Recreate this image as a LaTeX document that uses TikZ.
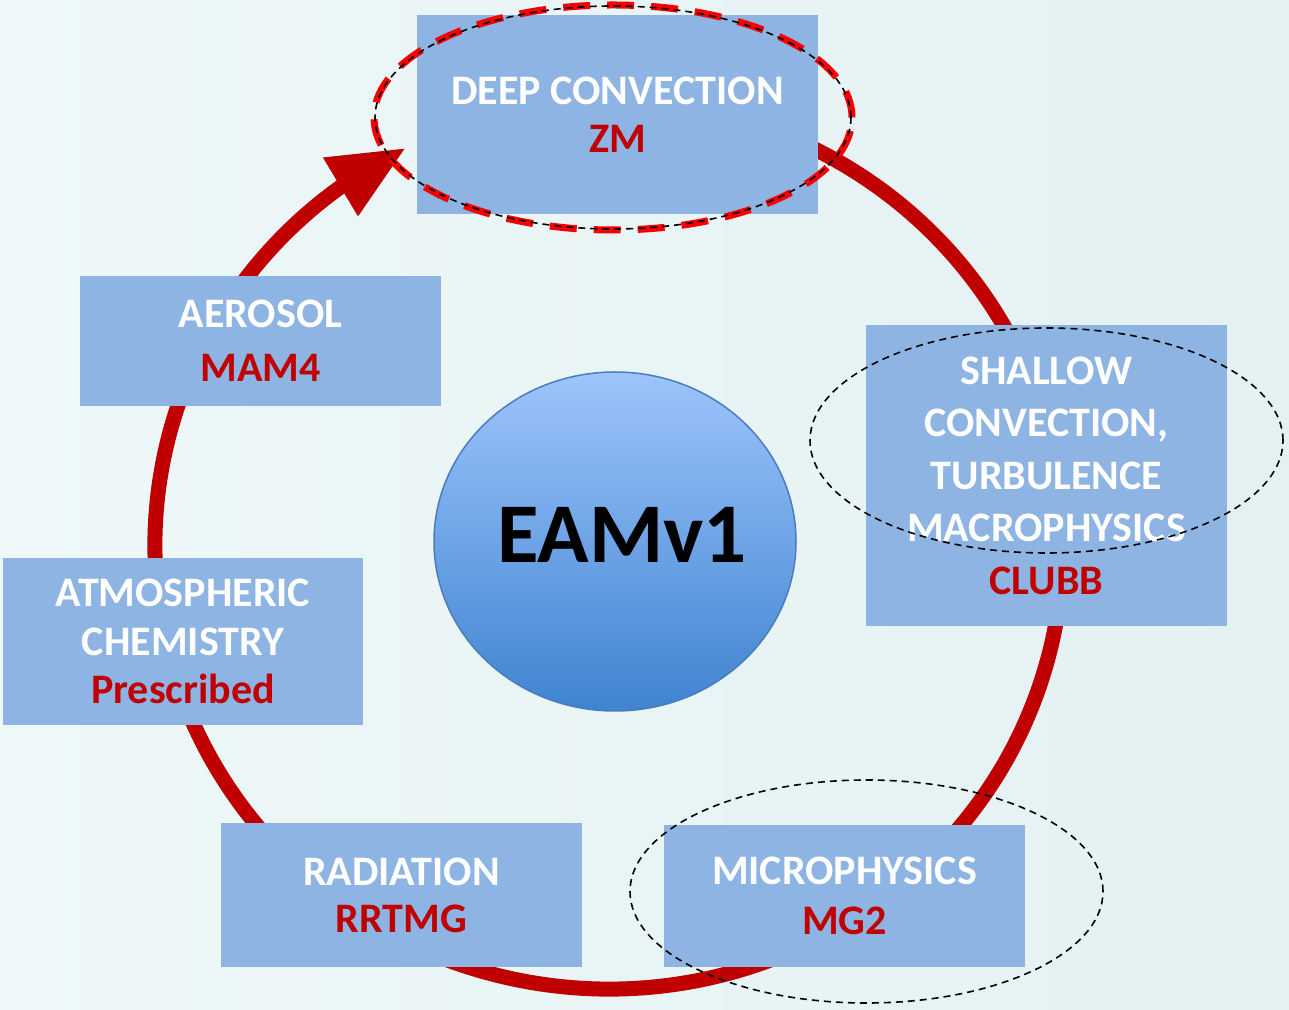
\documentclass[tikz,border=0pt]{standalone}
\usepackage{fontspec}
\setmainfont{Carlito}
\usetikzlibrary{shapes.geometric,arrows.meta,bending}
\definecolor{boxblue}{HTML}{8EB4E3}
\definecolor{redtxt}{HTML}{C00000}
\definecolor{ringred}{HTML}{C00000}
\definecolor{dashred}{HTML}{F70000}
\definecolor{bgL}{HTML}{EEF8F8}
\definecolor{bgR}{HTML}{E4F0F2}
\definecolor{circtop}{HTML}{9DC4FC}
\definecolor{circbot}{HTML}{3F84D0}
\definecolor{circedge}{HTML}{4A7DBB}
\newcommand{\boxfont}[1]{\fontsize{42}{#1}\selectfont\bfseries}
\begin{document}
\begin{tikzpicture}[x=1pt,y=1pt,
  modbox/.style={rectangle, fill=boxblue, inner sep=0pt, text=white, align=center},
  ring/.style={draw=ringred, line width=15pt, -{Triangle[width=64pt,length=76pt,flex]}},
  hlred/.style={ellipse, draw=dashred, line width=7pt, dash pattern=on 27pt off 17pt, inner sep=0pt},
  hlblack/.style={ellipse, draw=black, line width=1.6pt, dash pattern=on 7pt off 5pt, inner sep=0pt}
]
\useasboundingbox (0,0) rectangle (1289,1009);
\shade[left color=bgL, right color=bgR] (0,0) rectangle (1289,1009);

% cycle ring with arrow
\coordinate (rc) at (609,464);
\draw[ring] (rc) ++(75:454 and 444) arc[start angle=75, end angle=-243.4, x radius=454, y radius=444];

% module boxes
\node[modbox, minimum width=401, minimum height=199, font=\boxfont{48}] (deep) at (617.5,894.5)
  {DEEP CONVECTION\\ \textcolor{redtxt}{ZM}};
\node[modbox, minimum width=361, minimum height=130, font=\boxfont{54}] (aero) at (260.5,668)
  {AEROSOL\\ \textcolor{redtxt}{MAM4}};
\node[modbox, minimum width=360, minimum height=167, font=\boxfont{48.5}] (atmo) at (183,367.5)
  {ATMOSPHERIC\\ CHEMISTRY\\ \textcolor{redtxt}{Prescribed}};
\node[modbox, minimum width=361, minimum height=144, font=\boxfont{47}] (rad) at (401.5,114)
  {RADIATION\\ \textcolor{redtxt}{RRTMG}};
\node[modbox, minimum width=361, minimum height=142, font=\boxfont{50}] (micro) at (844.5,113)
  {MICROPHYSICS\\ \textcolor{redtxt}{MG2}};
\node[modbox, minimum width=361, minimum height=301, font=\boxfont{52.5}] (shallow) at (1046.5,533.5)
  {SHALLOW\\ CONVECTION,\\ TURBULENCE\\ MACROPHYSICS\\ \textcolor{redtxt}{CLUBB}};

% central model
\node[ellipse, minimum width=362, minimum height=339, inner sep=0pt, top color=circtop, bottom color=circbot,
  draw=circedge, line width=1.5pt] (core) at (615,467.5) {};
\node[inner sep=0pt, text depth=13pt, font=\fontsize{85}{90}\selectfont\bfseries] (coretext) at ([xshift=7pt]core.center) {EAMv1};

% highlight ellipses
\node[hlred, minimum width=478, minimum height=225] (hlDeepRed) at (613,891.5) {};
\node[hlblack, minimum width=476, minimum height=223] (hlDeep) at (613,891.5) {};
\node[hlblack, minimum width=473, minimum height=225] (hlShallow) at (1046.5,568.5) {};
\node[hlblack, minimum width=473, minimum height=223] (hlMicro) at (866.5,117.5) {};
\end{tikzpicture}
\end{document}
